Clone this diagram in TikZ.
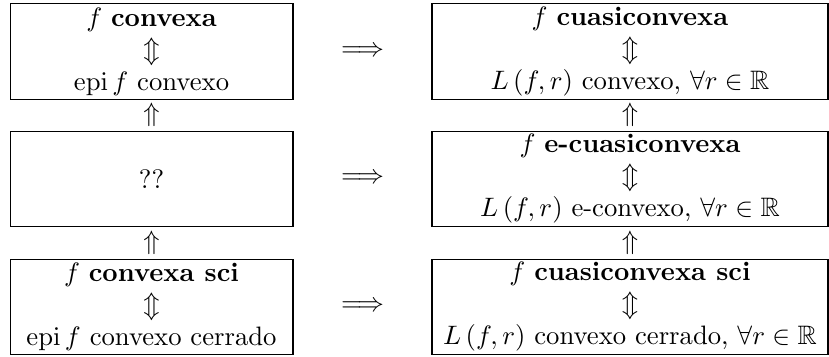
\documentclass[tikz,border=0pt]{standalone}
\usepackage{amsmath,amssymb}
\usetikzlibrary{calc}
\begin{document}
\begin{tikzpicture}[x=0.375pt,y=-0.375pt,
  box/.style={draw, line width=0.4pt, inner sep=0pt, align=center, minimum height=35.7pt},
  lbox/.style={box, minimum width=106.1pt},
  rbox/.style={box, minimum width=148.5pt},
  sym/.style={inner sep=0pt}]
\useasboundingbox (0,0) rectangle (829,356);
% left column
\node[lbox] (L1) at (151.5,51.5) {$f$ \textbf{convexa}\\ $\Updownarrow$\\ $\operatorname{epi} f$ convexo};
\node[lbox] (L2) at (151.5,179) {??};
\node[lbox] (L3) at (151.5,307) {$f$ \textbf{convexa sci}\\ $\Updownarrow$\\ $\operatorname{epi} f$ convexo cerrado};
% right column
\node[rbox] (R1) at (630,51.5) {$f$ \textbf{cuasiconvexa}\\ $\Updownarrow$\\ $L\left(f,r\right)$ convexo, $\forall r\in\mathbb{R}$};
\node[rbox] (R2) at (630,179) {$f$ \textbf{e-cuasiconvexa}\\ $\Updownarrow$\\ $L\left(f,r\right)$ e-convexo, $\forall r\in\mathbb{R}$};
\node[rbox] (R3) at (630,307) {$f$ \textbf{cuasiconvexa sci}\\ $\Updownarrow$\\ $L\left(f,r\right)$ convexo cerrado, $\forall r\in\mathbb{R}$};
% vertical implications
\node[sym] (uL1) at ($(L1.south)!0.5!(L2.north)$) {$\Uparrow$};
\node[sym] (uL2) at ($(L2.south)!0.5!(L3.north)$) {$\Uparrow$};
\node[sym] (uR1) at ($(R1.south)!0.5!(R2.north)$) {$\Uparrow$};
\node[sym] (uR2) at ($(R2.south)!0.5!(R3.north)$) {$\Uparrow$};
% horizontal implications
\node[sym] (h1) at ($(L1.east)!0.5!(R1.west)$) {$\Longrightarrow$};
\node[sym] (h2) at ($(L2.east)!0.5!(R2.west)$) {$\Longrightarrow$};
\node[sym] (h3) at ($(L3.east)!0.5!(R3.west)$) {$\Longrightarrow$};
\end{tikzpicture}
\end{document}
